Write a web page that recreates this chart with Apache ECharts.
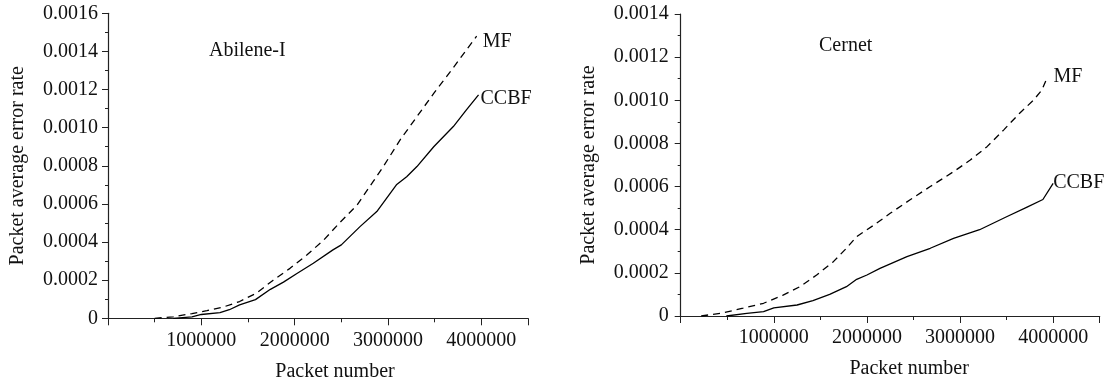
<!DOCTYPE html>
<html>
<head>
<meta charset="utf-8">
<script src="https://cdn.jsdelivr.net/npm/echarts@6/dist/echarts.min.js"></script>
<style>
  html, body { margin: 0; padding: 0; background: #fff; }
  #main { width: 1110px; height: 387px; }
</style>
</head>
<body>
<div id="main"></div>
<script>
// Abilene-I (left panel)
const abileneMfX = [500000, 700000, 900000, 1060000, 1240000, 1410000, 1590000, 1770000, 1950000, 2130000, 2310000, 2490000, 2670000, 2840000, 2950000, 3130000, 3310000, 3490000, 3670000, 3840000, 3950000]
const abileneMfY = [0, 0.000008, 0.000025, 0.00004, 0.00006, 0.000088, 0.000132, 0.0002, 0.000262, 0.000332, 0.00041, 0.000505, 0.000595, 0.000717, 0.000796, 0.000936, 0.001058, 0.00118, 0.001295, 0.001408, 0.00148]
const abileneCcbfX = [700000, 900000, 1000000, 1200000, 1300000, 1410000, 1580000, 1740000, 1880000, 2020000, 2200000, 2410000, 2500000, 2700000, 2880000, 3090000, 3200000, 3310000, 3490000, 3700000, 3840000, 3970000]
const abileneCcbfY = [0, 0.000008, 0.00002, 0.00003, 0.000045, 0.00007, 0.000098, 0.000152, 0.00019, 0.000234, 0.000289, 0.000359, 0.000385, 0.000481, 0.00056, 0.0007, 0.000743, 0.000796, 0.0009, 0.001006, 0.001093, 0.001172]

// Cernet (right panel)
const cernetMfX = [220000, 460000, 670000, 890000, 1100000, 1280000, 1460000, 1640000, 1780000, 1890000, 2070000, 2250000, 2460000, 2680000, 2930000, 3110000, 3290000, 3470000, 3640000, 3790000, 3880000, 3940000]
const cernetMfY = [0, 0.000015, 0.000036, 0.000059, 0.000097, 0.000136, 0.00019, 0.000252, 0.000314, 0.000368, 0.00042, 0.000476, 0.000538, 0.0006, 0.000669, 0.000723, 0.000785, 0.000863, 0.00094, 0.001001, 0.001048, 0.00111]
const cernetCcbfX = [490000, 710000, 890000, 1000000, 1250000, 1420000, 1600000, 1780000, 1890000, 2000000, 2140000, 2430000, 2680000, 2930000, 3210000, 3500000, 3720000, 3890000, 4000000]
const cernetCcbfY = [0, 0.000012, 0.00002, 0.000038, 0.000051, 0.000071, 0.0001, 0.000136, 0.00017, 0.00019, 0.000221, 0.000275, 0.000314, 0.00036, 0.0004, 0.00046, 0.000505, 0.00054, 0.000615]

const xTicks = ['1000000', '2000000', '3000000', '4000000']
const xName = 'Packet number'
const yName = 'Packet average error rate'

const FONT = 'Liberation Serif, Times New Roman, serif'
const INK = '#111'
const FS = 20

const pairs = (xs, ys) => xs.map((x, i) => [x, ys[i]])

const xLabel = (v) => (xTicks.indexOf(String(v)) >= 0 ? String(v) : '')

function makeX(gridIndex, pad) {
  return [
    {
      type: 'value', gridIndex, min: 0, max: 4500000, interval: 500000,
      name: xName, nameLocation: 'middle', nameGap: 43,
      nameTextStyle: { fontFamily: FONT, fontSize: FS, color: INK, padding: [0, 0, 0, pad] },
      axisLine: { lineStyle: { color: '#222', width: 1.2 } },
      axisTick: { length: 4, lineStyle: { color: '#222' } },
      axisLabel: { formatter: xLabel, margin: 12, fontFamily: FONT, fontSize: FS, color: INK, showMaxLabel: false },
      splitLine: { show: false }
    },
    {
      type: 'value', gridIndex, min: 0, max: 4500000, interval: 1000000, position: 'bottom',
      axisLine: { show: false },
      axisTick: { length: 7, lineStyle: { color: '#222' } },
      axisLabel: { show: false },
      splitLine: { show: false }
    }
  ]
}

function makeY(gridIndex, max, gap, margin) {
  return {
    type: 'value', gridIndex, min: 0, max, interval: 0.0002,
    name: yName, nameLocation: 'middle', nameGap: gap,
    nameTextStyle: { fontFamily: FONT, fontSize: FS, color: INK },
    axisLine: { show: true, lineStyle: { color: '#222', width: 1.2 } },
    axisTick: { show: true, length: 6, lineStyle: { color: '#222' } },
    minorTick: { show: true, splitNumber: 2, length: 3, lineStyle: { color: '#222' } },
    axisLabel: {
      formatter: (v) => (v === 0 ? '0' : v.toFixed(4)),
      margin, fontFamily: FONT, fontSize: FS, color: INK
    },
    splitLine: { show: false }
  }
}

function line(name, data, xi, yi, dashed, offset) {
  return {
    name, type: 'line', xAxisIndex: xi, yAxisIndex: yi, data,
    symbol: 'none', smooth: false,
    lineStyle: { color: '#000', width: 1.3, type: dashed ? [7, 5] : 'solid' },
    endLabel: {
      show: true, formatter: name, distance: 4, offset,
      fontFamily: FONT, fontSize: FS, color: INK
    }
  }
}

const myChart = echarts.init(document.getElementById('main'))

const option = {
  backgroundColor: '#fff',
  animation: false,
  title: [
    { text: 'Abilene-I', left: 204, top: 36, textStyle: { fontFamily: FONT, fontSize: FS, fontWeight: 'normal', color: INK } },
    { text: 'Cernet', left: 814, top: 31, textStyle: { fontFamily: FONT, fontSize: FS, fontWeight: 'normal', color: INK } }
  ],
  grid: [
    { left: 108, top: 13.3, width: 420, height: 305 },
    { left: 680.7, top: 14, width: 419, height: 302 }
  ],
  xAxis: [...makeX(0, 34), ...makeX(1, 38)],
  yAxis: [makeY(0, 0.0016, 80, 10), makeY(1, 0.0014, 82, 12)],
  series: [
    line('MF', pairs(abileneMfX, abileneMfY), 0, 0, true, [2, 6]),
    line('CCBF', pairs(abileneCcbfX, abileneCcbfY), 0, 0, false, [-2, 4]),
    line('MF', pairs(cernetMfX, cernetMfY), 2, 1, true, [2, 0]),
    line('CCBF', pairs(cernetCcbfX, cernetCcbfY), 2, 1, false, [-4, -1])
  ]
}

option && myChart.setOption(option)
</script>
</body>
</html>
